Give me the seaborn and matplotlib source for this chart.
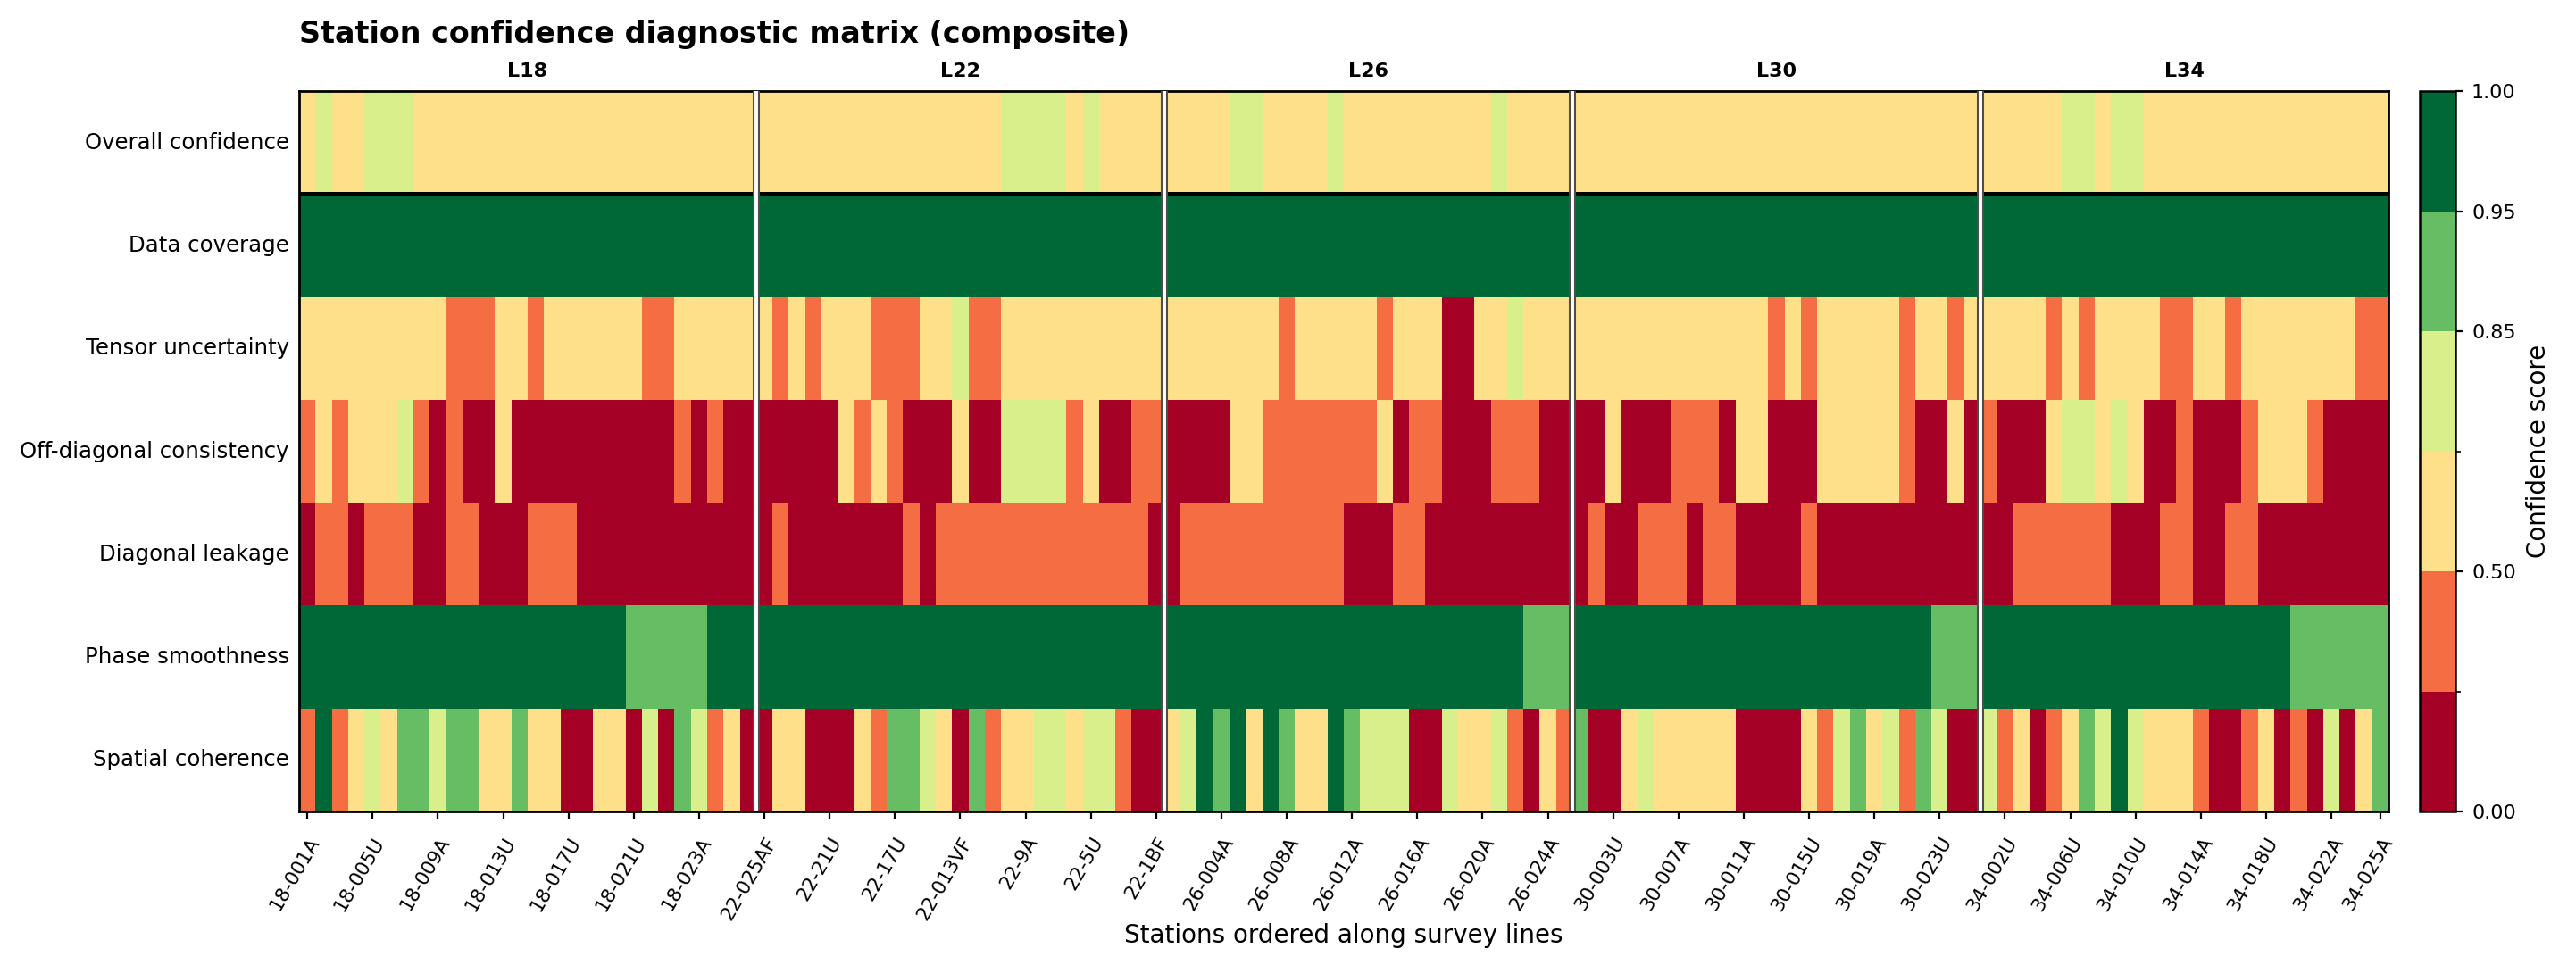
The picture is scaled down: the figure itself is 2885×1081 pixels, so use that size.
import numpy as np
import pandas as pd
import matplotlib
matplotlib.use("Agg")
import matplotlib.pyplot as plt
from matplotlib.colors import ListedColormap, BoundaryNorm
import seaborn as sns

plt.rcParams['font.family'] = ['DejaVu Sans']

# representative confidence scores for each colour class
R, O, Y, L, G, D = 0.20, 0.40, 0.60, 0.78, 0.90, 0.98

row_labels = ["Overall confidence", "Data coverage", "Tensor uncertainty",
              "Off-diagonal consistency", "Diagonal leakage",
              "Phase smoothness", "Spatial coherence"]

stations = [
    # L18
    "18-001A", "18-002U", "18-003A", "18-004A", "18-005U", "18-006A", "18-007U",
    "18-008A", "18-009A", "18-010U", "18-011A", "18-012A", "18-013U", "18-014A",
    "18-015A", "18-016U", "18-017U", "18-018A", "18-019A", "18-020U", "18-021U",
    "18-021A", "18-022U", "18-022A", "18-023A", "18-023U", "18-024A", "18-025A",
    # L22
    "22-025AF", "22-24U", "22-23A", "22-22A", "22-21U", "22-20A", "22-19U",
    "22-18A", "22-17U", "22-16A", "22-15U", "22-14A", "22-013VF", "22-12A",
    "22-11U", "22-10A", "22-9A", "22-8U", "22-7A", "22-6A", "22-5U", "22-4A",
    "22-3U", "22-2A", "22-1BF",
    # L26
    "26-001A", "26-002A", "26-003U", "26-004A", "26-005A", "26-006U", "26-007A",
    "26-008A", "26-009A", "26-010U", "26-011A", "26-012A", "26-013A", "26-014U",
    "26-015A", "26-016A", "26-017A", "26-018U", "26-019A", "26-020A", "26-021A",
    "26-022U", "26-023A", "26-024A", "26-025A",
    # L30
    "30-001A", "30-002A", "30-003U", "30-004A", "30-005A", "30-006U", "30-007A",
    "30-008A", "30-009U", "30-010A", "30-011A", "30-012A", "30-013U", "30-014A",
    "30-015U", "30-016A", "30-017A", "30-018U", "30-019A", "30-020A", "30-021A",
    "30-022A", "30-023U", "30-024A", "30-025A",
    # L34
    "34-001A", "34-002U", "34-003A", "34-004A", "34-005A", "34-006U", "34-007A",
    "34-008A", "34-009U", "34-010U", "34-011A", "34-012A", "34-013U", "34-014A",
    "34-015A", "34-016A", "34-017U", "34-018U", "34-019A", "34-020A", "34-021U",
    "34-022A", "34-023A", "34-024U", "34-025A",
]

overall_confidence = [
    Y, L, Y, Y, L, L, L, Y, Y, Y, Y, Y, Y, Y, Y, Y, Y, Y, Y, Y, Y, Y, Y, Y, Y, Y, Y, Y,
    Y, Y, Y, Y, Y, Y, Y, Y, Y, Y, Y, Y, Y, Y, Y, L, L, L, L, Y, L, Y, Y, Y, Y,
    Y, Y, Y, Y, L, L, Y, Y, Y, Y, L, Y, Y, Y, Y, Y, Y, Y, Y, Y, L, Y, Y, Y, Y,
    Y, Y, Y, Y, Y, Y, Y, Y, Y, Y, Y, Y, Y, Y, Y, Y, Y, Y, Y, Y, Y, Y, Y, Y, Y,
    Y, Y, Y, Y, Y, L, L, Y, L, L, Y, Y, Y, Y, Y, Y, Y, Y, Y, Y, Y, Y, Y, Y, Y,
]
data_coverage = [
    D, D, D, D, D, D, D, D, D, D, D, D, D, D, D, D, D, D, D, D, D, D, D, D, D, D, D, D,
    D, D, D, D, D, D, D, D, D, D, D, D, D, D, D, D, D, D, D, D, D, D, D, D, D,
    D, D, D, D, D, D, D, D, D, D, D, D, D, D, D, D, D, D, D, D, D, D, D, D, D,
    D, D, D, D, D, D, D, D, D, D, D, D, D, D, D, D, D, D, D, D, D, D, D, D, D,
    D, D, D, D, D, D, D, D, D, D, D, D, D, D, D, D, D, D, D, D, D, D, D, D, D,
]
tensor_uncertainty = [
    Y, Y, Y, Y, Y, Y, Y, Y, Y, O, O, O, Y, Y, O, Y, Y, Y, Y, Y, Y, O, O, Y, Y, Y, Y, Y,
    Y, O, Y, O, Y, Y, Y, O, O, O, Y, Y, L, O, O, Y, Y, Y, Y, Y, Y, Y, Y, Y, Y,
    Y, Y, Y, Y, Y, Y, Y, O, Y, Y, Y, Y, Y, O, Y, Y, Y, R, R, Y, Y, L, Y, Y, Y,
    Y, Y, Y, Y, Y, Y, Y, Y, Y, Y, Y, Y, O, Y, O, Y, Y, Y, Y, Y, O, Y, Y, O, Y,
    Y, Y, Y, Y, O, Y, O, Y, Y, Y, Y, O, O, Y, Y, O, Y, Y, Y, Y, Y, Y, Y, O, O,
]
offdiag_consistency = [
    O, Y, O, Y, Y, Y, L, O, R, O, R, R, Y, R, R, R, R, R, R, R, R, R, R, O, R, O, R, R,
    R, R, R, R, R, Y, O, Y, O, R, R, R, Y, R, R, L, L, L, L, O, Y, R, R, O, O,
    R, R, R, R, Y, Y, O, O, O, O, O, O, O, Y, R, O, O, R, R, R, O, O, O, R, R,
    R, R, Y, R, R, R, O, O, O, R, Y, Y, R, R, R, Y, Y, Y, Y, Y, O, R, R, Y, R,
    O, R, R, R, Y, L, L, Y, L, Y, R, R, O, R, R, R, O, Y, Y, Y, O, R, R, R, R,
]
diagonal_leakage = [
    R, O, O, R, O, O, O, R, R, O, O, R, R, R, O, O, O, R, R, R, R, R, R, R, R, R, R, R,
    R, O, R, R, R, R, R, R, R, O, R, O, O, O, O, O, O, O, O, O, O, O, O, O, R,
    R, O, O, O, O, O, O, O, O, O, O, R, R, R, O, O, R, R, R, R, R, R, R, R, R,
    R, O, R, R, O, O, O, R, O, O, R, R, R, R, O, R, R, R, R, R, R, R, R, R, R,
    R, R, O, O, O, O, O, O, R, R, R, O, O, R, R, O, O, R, R, R, R, R, R, R, R,
]
phase_smoothness = [
    D, D, D, D, D, D, D, D, D, D, D, D, D, D, D, D, D, D, D, D, G, G, G, G, G, D, D, D,
    D, D, D, D, D, D, D, D, D, D, D, D, D, D, D, D, D, D, D, D, D, D, D, D, D,
    D, D, D, D, D, D, D, D, D, D, D, D, D, D, D, D, D, D, D, D, D, D, G, G, G,
    D, D, D, D, D, D, D, D, D, D, D, D, D, D, D, D, D, D, D, D, D, D, G, G, G,
    D, D, D, D, D, D, D, D, D, D, D, D, D, D, D, D, D, D, D, G, G, G, G, G, G,
]
spatial_coherence = [
    O, D, O, Y, L, Y, G, G, L, G, G, Y, Y, G, Y, Y, R, R, Y, Y, R, L, R, G, L, O, Y, R,
    R, Y, Y, R, R, R, Y, O, G, G, L, Y, R, G, O, Y, Y, L, L, Y, L, L, O, R, R,
    Y, L, D, G, D, Y, D, G, Y, Y, D, G, L, L, L, R, R, L, Y, Y, L, O, R, Y, O,
    G, R, R, Y, L, Y, Y, Y, Y, Y, R, R, R, R, Y, O, L, G, Y, L, O, G, L, R, R,
    L, O, Y, R, O, Y, G, L, D, L, Y, Y, Y, O, R, R, O, Y, R, O, R, L, R, Y, G,
]

class_bounds = [0.0, 0.30, 0.50, 0.70, 0.85, 0.95, 1.0]
class_colors = ["#a50026", "#f46d43", "#fee08b", "#d9ef8b", "#66bd63", "#006837"]
cbar_ticks = [0.0, 0.50, 0.85, 0.95, 1.0]

matrix = pd.DataFrame(
    [overall_confidence, data_coverage, tensor_uncertainty, offdiag_consistency,
     diagonal_leakage, phase_smoothness, spatial_coherence],
    index=row_labels, columns=stations)

cmap = ListedColormap(class_colors)
norm = BoundaryNorm(class_bounds, cmap.N)

W, H = 2885, 1081
fig = plt.figure(figsize=(W / 200, H / 200), dpi=200)
ax = fig.add_axes([335 / W, 172 / H, 2340 / W, 807 / H])
cax = fig.add_axes([2710 / W, 172 / H, 40 / W, 807 / H])

sns.heatmap(matrix, ax=ax, cmap=cmap, norm=norm, cbar_ax=cax,
            cbar_kws={"ticks": cbar_ticks, "format": "%.2f"},
            xticklabels=False, yticklabels=True)

# frame
for s in ax.spines.values():
    s.set_visible(True)
    s.set_linewidth(1.0)
    s.set_color("black")

# survey line groups
prefixes = [s.split("-")[0] for s in stations]
groups = []
start = 0
for i in range(1, len(stations) + 1):
    if i == len(stations) or prefixes[i] != prefixes[start]:
        groups.append((prefixes[start], start, i))
        start = i

for name, a, b in groups:
    if a > 0:
        ax.axvline(a, color="0.3", lw=2.9, zorder=6)
        ax.axvline(a, color="white", lw=1.4, zorder=7)
    ax.annotate("L" + name, xy=((a + b) / 2, 1.0), xycoords=("data", "axes fraction"),
                xytext=(0, 5.8), textcoords="offset points", ha="center",
                va="baseline", fontsize=8, fontweight="bold")

ax.axhline(1, color="black", lw=1.8, zorder=5)

# ticks
tick_idx = list(range(0, len(stations), 4))
if tick_idx[-1] != len(stations) - 1:
    tick_idx.append(len(stations) - 1)
ax.set_xticks([i + 0.5 for i in tick_idx])
ax.set_xticklabels([stations[i] for i in tick_idx], rotation=60, ha="right",
                   rotation_mode="anchor", fontsize=7.8)
ax.tick_params(axis="x", length=3, width=0.8, pad=6, bottom=True)
ax.tick_params(axis="y", length=0, pad=4, labelsize=8.8)
plt.setp(ax.get_yticklabels(), rotation=0)

ax.set_xlabel("Stations ordered along survey lines", fontsize=10, labelpad=0)
ax.set_ylabel("")
ax.set_title("Station confidence diagnostic matrix (composite)", loc="left",
             fontsize=12, fontweight="bold", pad=19.5)

cbar = ax.collections[0].colorbar
cbar.outline.set_linewidth(0.9)
cbar.outline.set_edgecolor("black")
cbar.ax.tick_params(labelsize=8, length=3, width=0.8)
cbar.set_label("Confidence score", fontsize=10)

fig.savefig("out.png", dpi=200)
